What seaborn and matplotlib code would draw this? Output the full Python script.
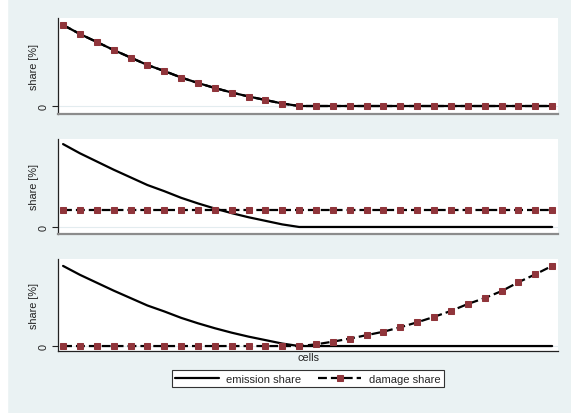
import numpy as np
import pandas as pd
import matplotlib
matplotlib.use('Agg')
import matplotlib.pyplot as plt
import seaborn as sns
from matplotlib.patches import Rectangle

# data (share in %, 30 cells)
cells = list(range(1, 31))
emission_share = [16.2, 14.4, 12.8, 11.2, 9.7, 8.2, 7.0, 5.7, 4.6, 3.6, 2.7, 1.9, 1.2, 0.5] + [0.0] * 16
damage_same = [16.2, 14.4, 12.8, 11.2, 9.7, 8.2, 7.0, 5.7, 4.6, 3.6, 2.7, 1.9, 1.2, 0.5] + [0.0] * 16
damage_uniform = [3.33] * 30
damage_rising = [0.0] * 15 + [0.34, 0.89, 1.5, 2.2, 2.9, 3.8, 4.8, 5.9, 7.1, 8.5, 9.7, 11.1, 12.9, 14.5, 16.2]

damage_panels = [damage_same, damage_uniform, damage_rising]

sns.set_theme(style='white')
plt.rcParams['font.family'] = ['Liberation Sans', 'DejaVu Sans']

bg = '#eaf2f3'
maroon = '#90353b'

fig = plt.figure(figsize=(5.71, 4.14), dpi=100, facecolor=bg)
fig.patches.append(Rectangle((0, 0), 7 / 571, 1, transform=fig.transFigure,
                             color='white', zorder=-1))

# axes boxes (left, bottom, width, height) in figure fractions
rects = [(0.1016, 0.7222, 0.8757, 0.2319),
         (0.1016, 0.4324, 0.8757, 0.2295),
         (0.1016, 0.1498, 0.8757, 0.2222)]
ylims = [(-1.6, 17.6), (-1.37, 17.2), (-1.0, 17.6)]

axes = []
for i, (rect, damage) in enumerate(zip(rects, damage_panels)):
    ax = fig.add_axes(rect)
    ax.set_facecolor('white')
    ax.grid(axis='y', color='#e3ecef', lw=0.8)
    ax.set_axisbelow(True)

    sns.lineplot(x=cells, y=emission_share, ax=ax, color='black', lw=1.6,
                 label='emission share', legend=False)
    sns.lineplot(x=cells, y=damage, ax=ax, color='black', lw=1.6,
                 linestyle=(0, (4, 1.8)), marker='s', markersize=4,
                 markerfacecolor=maroon, markeredgecolor=maroon,
                 label='damage share', legend=False)

    ax.set_xlim(0.7, 30.35)
    ax.set_ylim(*ylims[i])
    ax.set_xticks([])
    ax.set_yticks([0])
    ax.set_yticklabels(['0'], rotation=90, va='center')
    ax.tick_params(axis='y', left=True, length=4, width=0.8, pad=3,
                   labelsize=7.8, color='#222222', labelcolor='#222222')
    ax.set_ylabel('share [%]', fontsize=7.8, color='#222222')
    ax.yaxis.set_label_coords(-0.039, 0.5)

    for s in ['top', 'right']:
        ax.spines[s].set_visible(False)
    ax.spines['left'].set_color('#222222')
    ax.spines['left'].set_linewidth(0.9)
    if i < 2:
        ax.spines['bottom'].set_color('#8c8c8c')
        ax.spines['bottom'].set_linewidth(1.6)
    else:
        ax.spines['bottom'].set_color('#222222')
        ax.spines['bottom'].set_linewidth(0.9)
    ax.set_xlabel('')
    axes.append(ax)

axes[2].set_xlabel('cells', fontsize=7.8, labelpad=1, color='#222222')

handles, labels = axes[2].get_legend_handles_labels()
leg = fig.legend(handles, labels, loc='center', bbox_to_anchor=(0.5394, 0.0833),
                 ncol=2, frameon=True, fancybox=False, fontsize=8,
                 handlelength=3.9, handletextpad=0.7, columnspacing=1.5,
                 borderpad=0.3, borderaxespad=0)
leg.get_frame().set_edgecolor('#333333')
leg.get_frame().set_linewidth(0.8)
leg.get_frame().set_facecolor('white')
leg.get_frame().set_alpha(1)

fig.savefig('out.png', dpi=100, facecolor=fig.get_facecolor())
